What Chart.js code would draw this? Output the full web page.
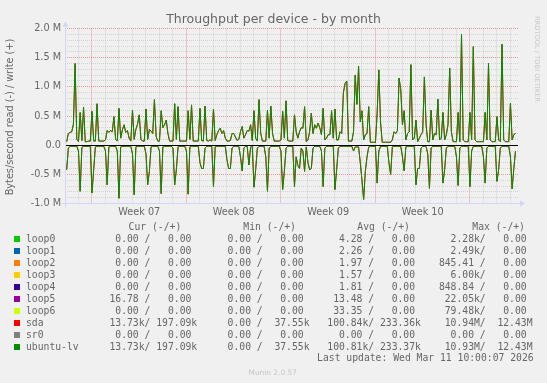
<!DOCTYPE html>
<html>
<head>
<meta charset="utf-8">
<script src="https://cdn.jsdelivr.net/npm/chart.js@4.4.1/dist/chart.umd.min.js"></script>
<style>
html,body{margin:0;padding:0;background:#F0F0F0;overflow:hidden;}
#wrap{position:relative;width:547px;height:383px;overflow:hidden;background:#F0F0F0;font-family:"DejaVu Sans";color:#666666;}
#c{position:absolute;left:0;top:0;display:block;}
.t{position:absolute;white-space:pre;}
.mono{font-family:"DejaVu Sans Mono";font-size:9.72px;line-height:12px;}
.sq{position:absolute;width:6px;height:6px;}
</style>
</head>
<body>
<div id="wrap">
<canvas id="c" width="547" height="383"></canvas>
<div class="t" id="title" style="left:0;top:11.3px;width:547px;text-align:center;font-size:12.5px;line-height:15px;">Throughput per device - by month</div>
<div class="t" id="ytitle" style="left:-90.2px;top:111px;width:200px;height:12px;text-align:center;font-size:9.7px;line-height:12px;transform:rotate(-90deg);">Bytes/second read (-) / write (+)</div>
<div class="t" id="rrd" style="left:437px;top:54.7px;width:200px;height:8px;text-align:center;font-size:6.7px;line-height:8px;color:rgba(102,102,102,0.3);transform:rotate(90deg);">RRDTOOL / TOBI OETIKER</div>
<div id="legend"></div>
<div class="t mono" id="lastupd" style="right:13.4px;top:352.1px;">Last update: Wed Mar 11 10:00:07 2026</div>
<div class="t" id="wm" style="left:172.7px;top:367.5px;width:200px;text-align:center;font-size:7.4px;line-height:9px;color:rgba(102,102,102,0.3);">Munin 2.0.57</div>
</div>
<script>
// ---------------- data (values in M bytes/second), one sample every 3 hours ----------------
const STEP_DAYS = 0.125;
const X_MAX_DAYS = 33.56;

// ubuntu-lv writes (+)
const ubuntuWrite = [
  null,0.06,0.20,0.22,0.23,0.36,1.40,0.10,0.06,0.56,
  0.08,0.65,0.06,0.06,0.07,0.07,0.58,0.07,0.07,0.71,
  0.07,0.07,0.07,0.07,0.09,0.25,0.22,0.25,0.23,0.49,
  0.10,0.07,0.63,0.12,0.26,0.35,0.22,0.25,0.12,0.07,
  0.60,0.10,0.27,0.36,0.52,0.10,0.07,0.07,0.62,0.10,
  0.27,0.24,0.20,0.78,0.15,0.07,0.07,0.59,0.30,0.35,
  0.43,0.20,0.07,0.07,0.07,0.71,0.10,0.66,0.07,0.07,
  0.07,0.07,0.07,0.59,0.10,0.69,0.07,0.07,0.07,0.07,
  0.63,0.08,0.07,0.67,0.08,0.07,0.09,0.07,0.62,0.08,
  0.18,0.25,0.29,0.20,0.25,0.12,0.07,0.07,0.08,0.20,
  0.20,0.14,0.08,0.10,0.23,0.32,0.12,0.18,0.25,0.24,
  0.35,0.08,0.59,0.12,0.07,0.78,0.20,0.07,0.07,0.07,
  0.60,0.12,0.67,0.20,0.07,0.07,0.07,0.07,0.09,0.58,
  0.12,0.76,0.08,0.07,0.07,0.07,0.52,0.23,0.12,0.23,
  0.30,0.29,0.66,0.06,0.09,0.23,0.55,0.20,0.35,0.29,
  0.38,0.30,0.18,0.63,0.09,0.12,0.18,0.18,0.59,0.12,
  0.62,0.09,0.09,0.23,0.20,0.90,1.06,1.10,0.07,0.07,
  0.07,0.23,1.20,0.70,1.35,0.40,0.59,0.09,0.18,0.20,
  0.66,0.05,0.05,0.05,0.05,0.55,1.29,0.40,0.05,0.05,
  0.05,0.05,0.05,0.05,0.09,0.23,0.20,0.25,1.15,0.95,
  0.35,0.59,0.09,0.20,0.23,1.38,0.09,0.12,0.43,0.06,
  0.12,0.18,0.23,1.17,0.35,0.06,0.06,0.60,0.09,0.20,
  0.18,0.79,0.09,0.12,0.56,0.09,0.18,0.35,1.32,0.23,
  0.06,0.06,0.06,0.56,0.06,1.90,0.09,0.06,0.06,0.06,
  0.56,0.09,1.69,0.09,0.06,0.06,0.06,0.06,0.06,0.56,
  0.09,1.40,0.09,0.06,0.06,0.06,0.49,0.09,0.06,1.73,
  0.09,0.06,0.06,0.06,0.72,0.09,0.18,0.20
];

// ubuntu-lv reads (-), stored as magnitudes
const ubuntuRead = [
  null,0.42,0.05,0.02,0.02,0.02,0.02,0.02,0.10,0.79,
  0.04,0.02,0.02,0.02,0.02,0.02,0.82,0.42,0.03,0.02,
  0.02,0.02,0.02,0.02,0.10,0.68,0.03,0.02,0.02,0.02,
  0.02,0.10,0.91,0.03,0.02,0.02,0.02,0.02,0.02,0.02,
  0.15,0.85,0.03,0.02,0.02,0.02,0.02,0.02,0.15,0.68,
  0.45,0.03,0.02,0.02,0.02,0.02,0.10,0.83,0.03,0.02,
  0.02,0.02,0.02,0.02,0.05,0.68,0.42,0.03,0.02,0.02,
  0.02,0.02,0.10,0.84,0.03,0.02,0.02,0.02,0.02,0.02,
  0.30,0.40,0.40,0.05,0.02,0.02,0.02,0.02,0.71,0.03,
  0.02,0.02,0.02,0.02,0.02,0.02,0.25,0.40,0.40,0.05,
  0.02,0.02,0.02,0.02,0.20,0.44,0.05,0.02,0.02,0.34,
  0.03,0.02,0.72,0.42,0.05,0.02,0.02,0.02,0.02,0.20,
  0.79,0.05,0.02,0.02,0.02,0.02,0.02,0.02,0.10,0.76,
  0.45,0.05,0.02,0.02,0.02,0.02,0.71,0.20,0.35,0.40,
  0.05,0.10,0.45,0.03,0.30,0.42,0.40,0.05,0.02,0.02,
  0.02,0.02,0.10,0.71,0.05,0.02,0.02,0.02,0.02,0.02,
  0.76,0.42,0.05,0.02,0.02,0.02,0.02,0.02,0.02,0.02,
  0.02,0.10,0.03,0.03,0.03,0.30,0.60,0.93,0.45,0.20,
  0.03,0.02,0.02,0.02,0.02,0.65,0.10,0.02,0.02,0.02,
  0.02,0.02,0.30,0.50,0.03,0.02,0.02,0.02,0.02,0.02,
  0.20,0.44,0.03,0.02,0.02,0.02,0.02,0.02,0.68,0.40,
  0.40,0.05,0.02,0.02,0.02,0.15,0.74,0.05,0.02,0.02,
  0.02,0.02,0.02,0.02,0.65,0.42,0.05,0.02,0.02,0.02,
  0.02,0.02,0.20,0.69,0.05,0.02,0.02,0.02,0.02,0.02,
  0.71,0.10,0.02,0.02,0.02,0.02,0.02,0.02,0.20,0.65,
  0.05,0.02,0.02,0.02,0.02,0.02,0.62,0.42,0.05,0.02,
  0.02,0.02,0.02,0.02,0.20,0.75,0.40,0.10
];

// sda carries the same traffic as ubuntu-lv (legend: 233.36k vs 233.37k avg write)
const sdaWrite = ubuntuWrite;
const sdaRead = ubuntuRead;

// x axis (days from the first day line)
const weekStartDays = [2, 9, 16, 23, 30];
const weekLabelDays = [5.5, 12.5, 19.5, 26.5];
const weekLabels = ['Week 07', 'Week 08', 'Week 09', 'Week 10'];

// y axis
const yTickValues = [-1, -0.5, 0, 0.5, 1, 1.5, 2];
const yTickLabels = ['-1.0 M', '-0.5 M', '0.0', '0.5 M', '1.0 M', '1.5 M', '2.0 M'];

// legend
const legendNames = ['loop0','loop1','loop2','loop3','loop4','loop5','loop6','sda','sr0','ubuntu-lv'];
const legendColors = ['#00CC00','#0066B3','#FF8000','#FFCC00','#330099','#990099','#CCFF00','#FF0000','#808080','#008F00'];
const curRead  = ['0.00','0.00','0.00','0.00','0.00','16.78','0.00','13.73k','0.00','13.73k'];
const curWrite = ['0.00','0.00','0.00','0.00','0.00','0.00','0.00','197.09k','0.00','197.09k'];
const minRead  = ['0.00','0.00','0.00','0.00','0.00','0.00','0.00','0.00','0.00','0.00'];
const minWrite = ['0.00','0.00','0.00','0.00','0.00','0.00','0.00','37.55k','0.00','37.55k'];
const avgRead  = ['4.28','2.26','1.97','1.57','1.81','13.48','33.35','100.84k','0.00','100.81k'];
const avgWrite = ['0.00','0.00','0.00','0.00','0.00','0.00','0.00','233.36k','0.00','233.37k'];
const maxRead  = ['2.28k','2.49k','845.41','6.00k','848.84','22.05k','79.48k','10.94M','0.00','10.93M'];
const maxWrite = ['0.00','0.00','0.00','0.00','0.00','0.00','0.00','12.43M','0.00','12.43M'];
const legendHeaders = ['Cur (-/+)', 'Min (-/+)', 'Avg (-/+)', 'Max (-/+)'];

// ---------------- legend (HTML text) ----------------
(function buildLegend(){
  const L = document.getElementById('legend');
  const rowTop0 = 233.1, rowH = 12;
  const groupX = [103.6, 215.9, 327.3, 438.9];
  const headerX = [128.6, 243.3, 357.3, 472.3];
  const pad = (s, w) => { const m = s.match(/^([\d.]+)([kM]?)$/); return m[1].padStart(w) + (m[2] || ' '); };
  const pair = (a, b) => pad(a, 6) + '/' + pad(b, 7);
  const add = (cls, text, left, top) => {
    const d = document.createElement('div');
    d.className = cls; d.textContent = text;
    d.style.left = left + 'px'; d.style.top = top + 'px';
    L.appendChild(d);
  };
  legendHeaders.forEach((h, k) => add('t mono', h, headerX[k], rowTop0 - rowH));
  const cols = [[curRead, curWrite], [minRead, minWrite], [avgRead, avgWrite], [maxRead, maxWrite]];
  legendNames.forEach((name, r) => {
    const top = rowTop0 + r * rowH;
    const sq = document.createElement('div');
    sq.className = 'sq'; sq.style.left = '14px'; sq.style.top = (236 + r * rowH) + 'px';
    sq.style.background = legendColors[r];
    L.appendChild(sq);
    add('t mono', name, 26, top);
    cols.forEach((c, k) => add('t mono', pair(c[0][r], c[1][r]), groupX[k], top));
  });
})();

// ---------------- chart ----------------
const times = ubuntuWrite.map((_, i) => i * STEP_DAYS);
const neg = arr => arr.map(v => v === null ? null : -v);

const GRID = 'rgba(150,150,150,0.32)';
const MGRID = 'rgba(222,79,79,0.55)';
const AXIS = '#CFD6F8';

const xGridDays = [];
for (let d = 0; d <= Math.floor(X_MAX_DAYS); d++) xGridDays.push(d);
const yGridVals = [];
for (let k = -10; k <= 20; k++) yGridVals.push(k / 10);

const isMajorY = v => Math.abs(v * 2 - Math.round(v * 2)) < 1e-6;

const rrdDecor = {
  id: 'rrdDecor',
  afterDatasetsDraw(chart) {
    const {ctx, chartArea: {left, right}, scales: {y}} = chart;
    const y0 = Math.floor(y.getPixelForValue(0)) + 0.5;
    ctx.save();
    ctx.strokeStyle = '#000000';
    ctx.lineWidth = 1;
    ctx.beginPath(); ctx.moveTo(left, y0); ctx.lineTo(right, y0); ctx.stroke();
    ctx.restore();
  },
  afterDraw(chart) {
    const {ctx, chartArea: {left, right, top, bottom}} = chart;
    const ax = Math.floor(left) + 0.5;
    const by = Math.floor(bottom) + 0.5;
    const tp = Math.floor(top) + 0.5;
    ctx.save();
    ctx.strokeStyle = AXIS; ctx.fillStyle = AXIS; ctx.lineWidth = 1;
    ctx.beginPath();
    ctx.moveTo(ax - 4, by); ctx.lineTo(right + 4, by);
    ctx.moveTo(ax, by + 4); ctx.lineTo(ax, tp - 4);
    ctx.stroke();
    ctx.beginPath();
    ctx.moveTo(right + 2, by - 3); ctx.lineTo(right + 2, by + 3); ctx.lineTo(right + 7, by); ctx.closePath();
    ctx.fill();
    ctx.beginPath();
    ctx.moveTo(ax - 3, tp - 2); ctx.lineTo(ax + 3, tp - 2); ctx.lineTo(ax, tp - 7); ctx.closePath();
    ctx.fill();
    ctx.restore();
  }
};

const lineBase = { pointRadius: 0, borderWidth: 1, tension: 0, borderJoinStyle: 'round', fill: false, spanGaps: false };

new Chart(document.getElementById('c').getContext('2d'), {
  type: 'line',
  data: {
    labels: times,
    datasets: [
      Object.assign({ label: 'ubuntu-lv write', data: ubuntuWrite, borderColor: '#008F00', order: 0 }, lineBase),
      Object.assign({ label: 'ubuntu-lv read', data: neg(ubuntuRead), borderColor: '#008F00', order: 0 }, lineBase),
      Object.assign({ label: 'sda write', data: sdaWrite, borderColor: '#FF0000', order: 1 }, lineBase),
      Object.assign({ label: 'sda read', data: neg(sdaRead), borderColor: '#FF0000', order: 1 }, lineBase)
    ]
  },
  options: {
    responsive: false,
    animation: false,
    devicePixelRatio: 1,
    layout: { padding: { left: 0, right: 29, top: 28.5, bottom: 159.5 } },
    plugins: { legend: { display: false }, tooltip: { enabled: false }, title: { display: false } },
    scales: {
      x: {
        type: 'linear', min: 0, max: X_MAX_DAYS,
        afterFit(s) { s.height = 20; },
        afterBuildTicks(s) {
          s.ticks = xGridDays.concat(weekLabelDays).sort((a, b) => a - b).map(v => ({ value: v }));
        },
        grid: {
          drawTicks: false, lineWidth: 1,
          color: c => {
            const v = c.tick ? c.tick.value : 0;
            if (!Number.isInteger(v)) return 'rgba(0,0,0,0)';
            return weekStartDays.includes(v) ? MGRID : GRID;
          }
        },
        border: { display: false, dash: [1, 1] },
        ticks: {
          autoSkip: false, maxRotation: 0, minRotation: 0, padding: 3,
          color: '#666666', font: { family: 'DejaVu Sans', size: 9.7 },
          callback: v => { const k = weekLabelDays.indexOf(v); return k >= 0 ? weekLabels[k] : ''; }
        }
      },
      y: {
        type: 'linear', min: -1, max: 2,
        afterFit(s) { s.width = 65; },
        afterBuildTicks(s) { s.ticks = yGridVals.map(v => ({ value: v })); },
        grid: {
          drawTicks: false, lineWidth: 1,
          color: c => (c.tick && isMajorY(c.tick.value)) ? MGRID : GRID
        },
        border: { display: false, dash: [1, 1] },
        ticks: {
          autoSkip: false, padding: 4,
          color: '#666666', font: { family: 'DejaVu Sans', size: 9.7 },
          callback: v => {
            const k = yTickValues.findIndex(t => Math.abs(t - v) < 1e-6);
            return k >= 0 ? yTickLabels[k] : '';
          }
        }
      }
    }
  },
  plugins: [rrdDecor]
});
</script>
</body>
</html>
